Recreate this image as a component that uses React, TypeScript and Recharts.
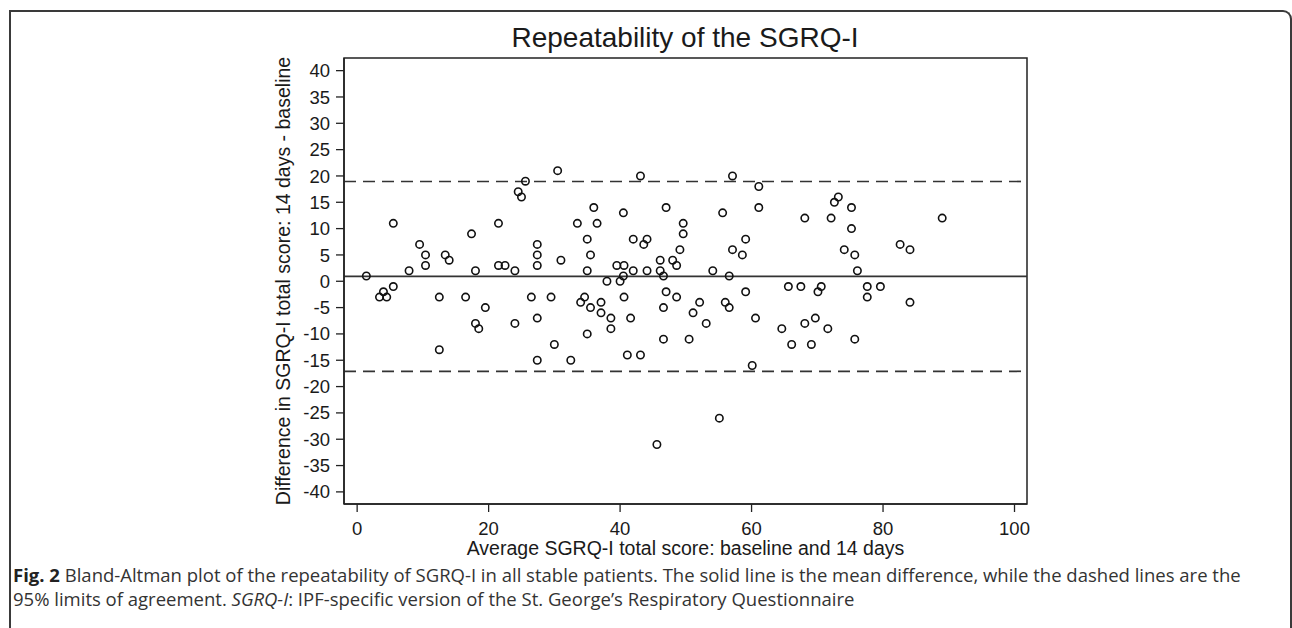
import React from 'react';
import { ScatterChart, Scatter, XAxis, YAxis, ReferenceLine, ReferenceArea, Label } from 'recharts';

// average of baseline and 14-day SGRQ-I total score
const avgScore = [
  1.4, 5.5, 9.5, 10.4, 10.4, 7.9, 13.4, 14.0, 17.4, 21.5, 21.5, 22.5, 18.0, 5.5, 4.0, 3.4, 4.5, 12.5, 16.5, 19.5, 18.0, 18.5, 12.5,
  30.5, 25.6, 24.5, 25.0, 43.1, 36.0, 40.5, 33.5, 36.5, 27.4, 27.4, 27.4, 31.0, 24.0, 35.0, 35.5, 35.0, 42.0, 43.6, 44.1, 39.5, 40.6,
  40.5, 42.0, 44.1, 38.0, 40.0, 26.5, 29.5, 34.6, 34.0, 35.5, 37.1, 40.6, 37.1, 38.6, 41.6, 27.4, 24.0, 35.0, 38.6, 30.0, 27.4, 32.5,
  41.1, 43.1,
  57.1, 61.1, 61.1, 47.0, 55.6, 49.6, 49.6, 68.1, 59.1, 49.1, 57.1, 58.6, 46.1, 48.0, 48.6, 46.1, 54.1, 46.6, 56.6, 47.0, 48.6, 46.6,
  52.1, 51.1, 56.0, 56.6, 59.1, 53.1, 60.6, 46.6, 50.5, 60.1, 65.6, 67.5, 64.6, 66.1, 68.1,
  73.2, 72.6, 75.2, 72.1, 89.0, 75.2, 74.1, 75.7, 82.6, 84.1, 76.1, 70.6, 70.1, 77.6, 79.6, 77.6, 84.1, 69.7, 71.6, 69.1, 75.7,
  45.6, 55.1,
];

// difference: 14 days - baseline
const diffScore = [
  1, 11, 7, 5, 3, 2, 5, 4, 9, 11, 3, 3, 2, -1, -2, -3, -3, -3, -3, -5, -8, -9, -13,
  21, 19, 17, 16, 20, 14, 13, 11, 11, 7, 5, 3, 4, 2, 8, 5, 2, 8, 7, 8, 3, 3,
  1, 2, 2, 0, 0, -3, -3, -3, -4, -5, -4, -3, -6, -7, -7, -7, -8, -10, -9, -12, -15, -15,
  -14, -14,
  20, 18, 14, 14, 13, 11, 9, 12, 8, 6, 6, 5, 4, 4, 3, 2, 2, 1, 1, -2, -3, -5,
  -4, -6, -4, -5, -2, -8, -7, -11, -11, -16, -1, -1, -9, -12, -8,
  16, 15, 14, 12, 12, 10, 6, 5, 7, 6, 2, -1, -2, -1, -1, -3, -4, -7, -9, -12, -11,
  -31, -26,
];

const xTicks = [0, 20, 40, 60, 80, 100];
const yTicks = [-40, -35, -30, -25, -20, -15, -10, -5, 0, 5, 10, 15, 20, 25, 30, 35, 40];

const meanDiff = 0.93;
const upperLimit = 18.95;
const lowerLimit = -17.1;

const xDomain = [-2, 101.9];
const yDomain = [-42.3, 42.4];

const points = avgScore.map((x, i) => ({ x, y: diffScore[i] }));

const stataFont = '"Liberation Sans", Arial, sans-serif';
const ink = '#1a1a1a';

const Ring = (props: any) => (
  <circle cx={props.cx} cy={props.cy} r={3.7} fill="none" stroke="#111" strokeWidth={1.6} />
);

export default function App() {
  return (
    <div style={{ position: 'fixed', left: 0, top: 0, width: 1292, height: 628, overflow: 'hidden', background: '#fff' }}>
      {/* figure card border, open at the bottom */}
      <div
        style={{
          position: 'absolute',
          left: 9,
          top: 10,
          width: 1279,
          height: 700,
          borderTop: '2px solid #3a3a3a',
          borderLeft: '2px solid #3a3a3a',
          borderRight: '2px solid #3a3a3a',
          borderTopRightRadius: 9,
        }}
      />
      <div
        style={{
          position: 'absolute',
          left: 385,
          top: 22,
          width: 600,
          textAlign: 'center',
          fontFamily: stataFont,
          fontSize: 28,
          lineHeight: '32px',
          color: ink,
        }}
      >
        Repeatability of the SGRQ-I
      </div>

      <div style={{ position: 'absolute', left: 0, top: 0 }}>
        <ScatterChart width={1292} height={628} margin={{ top: 58, right: 265, bottom: 64, left: 264 }}>
          <XAxis
            type="number"
            dataKey="x"
            domain={xDomain}
            ticks={xTicks}
            allowDataOverflow
            height={60}
            tickSize={8}
            tickMargin={10}
            axisLine={{ stroke: '#222', strokeWidth: 1.5 }}
            tickLine={{ stroke: '#222', strokeWidth: 1.3 }}
            tick={{ fill: ink, fontSize: 18.5, fontFamily: stataFont }}
          >
            <Label
              value="Average SGRQ-I total score: baseline and 14 days"
              position="insideBottom"
              offset={9}
              style={{ fill: ink, fontSize: 19.5, fontFamily: stataFont }}
            />
          </XAxis>
          <YAxis
            type="number"
            dataKey="y"
            domain={yDomain}
            ticks={yTicks}
            allowDataOverflow
            width={80}
            tickSize={8}
            tickMargin={6}
            axisLine={{ stroke: '#222', strokeWidth: 1.5 }}
            tickLine={{ stroke: '#222', strokeWidth: 1.3 }}
            tick={{ fill: ink, fontSize: 18.5, fontFamily: stataFont }}
          >
            <Label
              value="Difference in SGRQ-I total score: 14 days - baseline"
              position="insideLeft"
              angle={-90}
              offset={19}
              style={{ fill: ink, fontSize: 19.5, fontFamily: stataFont, textAnchor: 'middle' }}
            />
          </YAxis>
          <ReferenceArea
            x1={xDomain[0]}
            x2={xDomain[1]}
            y1={yDomain[0]}
            y2={yDomain[1]}
            fill="none"
            stroke="#222"
            strokeWidth={1.5}
            ifOverflow="visible"
          />
          <ReferenceLine y={upperLimit} stroke="#333" strokeWidth={1.7} strokeDasharray="12 7" />
          <ReferenceLine y={meanDiff} stroke="#333" strokeWidth={1.8} />
          <ReferenceLine y={lowerLimit} stroke="#333" strokeWidth={1.7} strokeDasharray="12 7" />
          <Scatter data={points} shape={Ring} isAnimationActive={false} />
        </ScatterChart>
      </div>

      <div
        style={{
          position: 'absolute',
          left: 13,
          top: 563,
          fontFamily: '"Open Sans", "Noto Sans", sans-serif',
          fontSize: 18.5,
          lineHeight: '24px',
          color: '#333',
          whiteSpace: 'nowrap',
        }}
      >
        <b style={{ color: '#222' }}>Fig. 2</b> Bland-Altman plot of the repeatability of SGRQ-I in all stable patients. The solid line is the mean difference, while the dashed lines are the
        <br />
        95% limits of agreement. <i>SGRQ-I</i>: IPF-specific version of the St. George’s Respiratory Questionnaire
      </div>
    </div>
  );
}
